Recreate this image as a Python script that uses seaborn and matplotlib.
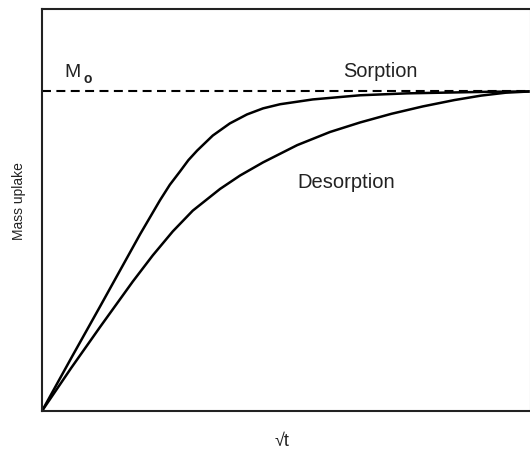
import numpy as np
import pandas as pd
import matplotlib
matplotlib.use("Agg")
import matplotlib.pyplot as plt
import seaborn as sns

# sqrt(t) (fraction of plotted range) and mass uptake (fraction of M0)
sorption_x = [0.0, 0.0615, 0.119, 0.160, 0.201, 0.242, 0.262, 0.283, 0.300, 0.318,
              0.350, 0.385, 0.420, 0.453, 0.488, 0.555, 0.652, 0.748, 0.918, 1.0]
sorption_y = [0.0, 0.170, 0.327, 0.440, 0.553, 0.660, 0.708, 0.750, 0.785, 0.815,
              0.862, 0.900, 0.928, 0.947, 0.960, 0.975, 0.988, 0.994, 0.999, 1.0]

desorption_x = [0.0, 0.060, 0.120, 0.186, 0.227, 0.268, 0.309, 0.365, 0.406, 0.453,
                0.523, 0.590, 0.652, 0.716, 0.780, 0.845, 0.900, 0.950, 1.0]
desorption_y = [0.0, 0.135, 0.265, 0.405, 0.487, 0.562, 0.627, 0.695, 0.737, 0.778,
                0.832, 0.873, 0.903, 0.930, 0.953, 0.973, 0.987, 0.996, 1.0]

m0 = 1.0

sns.set_theme(style="white")
plt.rcParams['font.family'] = ['Liberation Sans', 'DejaVu Sans']

fig = plt.figure(figsize=(5.30, 4.54), dpi=100)
ax = fig.add_axes([0.0792, 0.0947, 0.9208, 0.8855])

sorp = pd.DataFrame({"x": sorption_x, "y": sorption_y})
desorp = pd.DataFrame({"x": desorption_x, "y": desorption_y})
sns.lineplot(data=sorp, x="x", y="y", ax=ax, color="black", lw=1.8, sort=False)
sns.lineplot(data=desorp, x="x", y="y", ax=ax, color="black", lw=1.8, sort=False)

ax.axhline(m0, color="black", lw=1.5, dashes=(4.3, 2.6))

ax.set_xlim(0, 1.0)
ax.set_ylim(0, 1.258)
ax.set_xticks([])
ax.set_yticks([])

for side in ["left", "top", "bottom"]:
    ax.spines[side].set_color("#222222")
    ax.spines[side].set_linewidth(1.5)
ax.spines["right"].set_color("#e6e6e6")
ax.spines["right"].set_linewidth(1.0)

txt = "#222222"
ax.text(0.045, 1.045, "M", fontsize=14, color=txt, ha="left", va="baseline")
ax.text(0.086, 1.027, "o", fontsize=10, fontweight="bold", color=txt, ha="left", va="baseline")
ax.text(0.694, 1.045, "Sorption", fontsize=14.4, color=txt, ha="center", va="baseline")
ax.text(0.623, 0.697, "Desorption", fontsize=14.5, color=txt, ha="center", va="baseline")

ax.set_xlabel("√t", fontsize=13, color=txt)
ax.xaxis.set_label_coords(0.492, -0.076)
ax.xaxis.label.set_va("center")
ax.set_ylabel("Mass uplake", fontsize=10, color=txt)
ax.yaxis.set_label_coords(-0.047, 0.522)
ax.yaxis.label.set_va("center")

fig.savefig("out.png", dpi=100)
